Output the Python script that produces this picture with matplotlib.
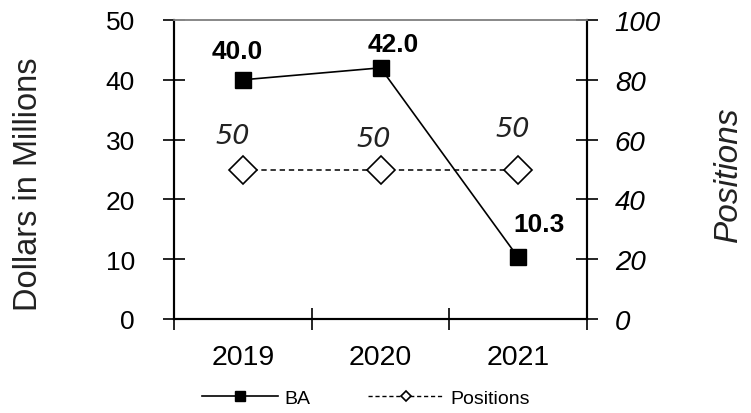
import matplotlib
matplotlib.use("Agg")
import matplotlib.pyplot as plt
from matplotlib.lines import Line2D

years = ["2019", "2020", "2021"]
ba = [40.0, 42.0, 10.3]
positions = [50, 50, 50]

plt.rcParams['font.family'] = ['Liberation Sans', 'DejaVu Sans']

fig = plt.figure(figsize=(7.51, 4.14), dpi=100)
ax = fig.add_axes([174/751, 1-320/414, (587-174)/751, (320-21)/414])
ax2 = ax.twinx()

x = list(range(1, len(years)+1))
ax.plot(x, ba, color='black', lw=1.2, marker='s', ms=12, mfc='black', mec='black', zorder=3)
ax2.plot(x, positions, color='black', lw=1.1, ls=(0, (3.5, 2.5)), marker='D', ms=14.5,
         mfc='white', mec='black', mew=1.2, zorder=3)

ax.set_xlim(0.5, 3.5)
ax.set_ylim(0, 50)
ax2.set_ylim(0, 100)
ax.set_xticks([0.5, 1.5, 2.5, 3.5])
ax.set_xticklabels([])
ax.set_xticks(x, labels=years, minor=True)
ax.tick_params(axis='x', which='major', direction='inout', length=16, width=1.2)
ax.tick_params(axis='x', which='minor', length=0, labelsize=20.5, pad=18)
ax.set_yticks([0, 10, 20, 30, 40, 50])
ax.tick_params(axis='y', direction='inout', length=16, width=1.2, labelsize=19, pad=20)
ax2.set_yticks([0, 20, 40, 60, 80, 100])
ax2.tick_params(axis='y', direction='inout', length=16, width=1.2, labelsize=20, pad=12)
for lab in ax2.get_yticklabels():
    lab.set_fontstyle('italic')

for a in (ax, ax2):
    a.spines['top'].set_color('#888888')
    a.spines['top'].set_linewidth(1.2)
    for s in ('left', 'right', 'bottom'):
        a.spines[s].set_linewidth(1.5)

ax.set_ylabel("Dollars in Millions", fontsize=23.5, color='#222222')
ax.yaxis.set_label_coords(-130/413, 136/299)
ax2.set_ylabel("Positions", fontsize=24, fontstyle='italic', rotation=90, color='#222222')
ax2.yaxis.set_label_coords(1+(713-587)/413, 1-(174-21)/299)

ba_offsets = [(-4, 21), (9, 17), (15, 24)]
for xi, v, off in zip(x, ba, ba_offsets):
    ax.annotate(f"{v:.1f}", (xi, v), xytext=off, textcoords='offset points',
                ha='center', va='center', fontsize=19, fontweight='bold')

pos_offsets = [(-7, 24), (-5, 22), (-4, 29)]
for xi, v, off in zip(x, positions, pos_offsets):
    ax2.annotate(f"{v}", (xi, v), xytext=off, textcoords='offset points',
                 ha='center', va='center', fontsize=19.5, fontstyle='italic',
                 family='DejaVu Sans', color='#222222')

handles = [Line2D([], [], color='black', lw=1.2, marker='s', ms=7, mfc='black'),
           Line2D([], [], color='black', lw=1.0, ls=(0, (3, 2)), marker='D', ms=5.5, mfc='white', mew=1.2)]
fig.legend(handles, ["BA", "Positions"], loc='center', bbox_to_anchor=(366/751, 1-399/414),
           ncol=2, frameon=False, fontsize=14, handlelength=3.9, columnspacing=3.0,
           handletextpad=0.3, borderpad=0, borderaxespad=0)

fig.savefig("out.png", dpi=100)
